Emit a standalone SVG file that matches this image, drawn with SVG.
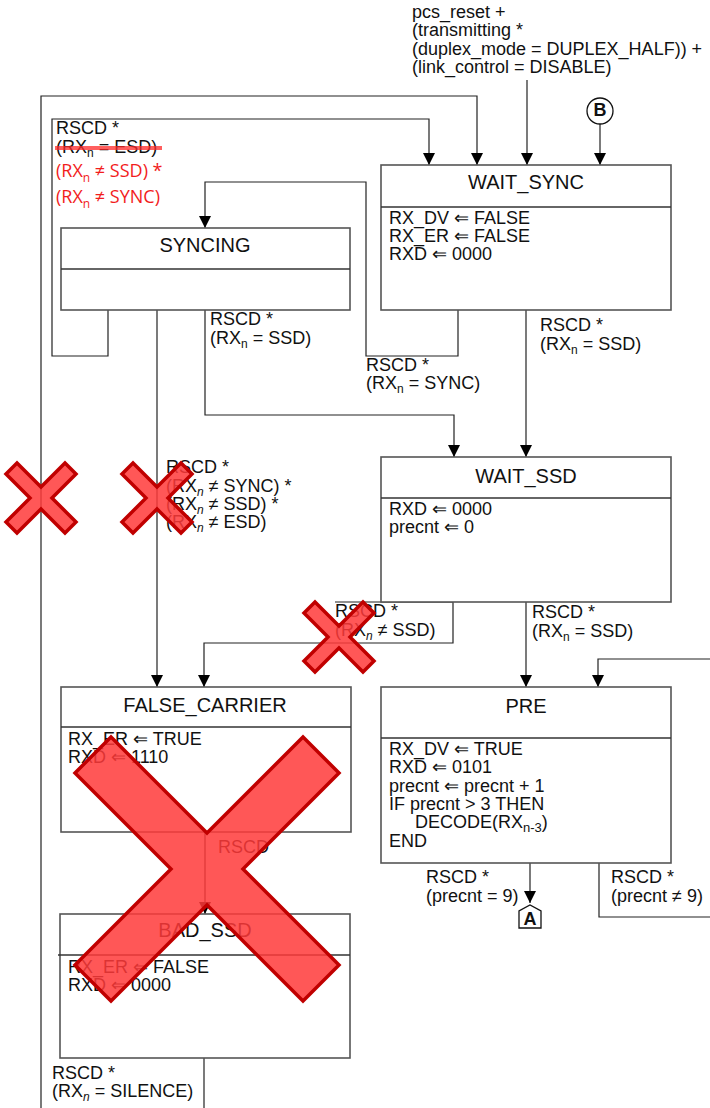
<svg xmlns="http://www.w3.org/2000/svg" width="710" height="1108" viewBox="0 0 710 1108">
<defs>
<style>
text{font-family:"Liberation Sans",Arial,sans-serif;font-size:18px;fill:#111}
.t{font-size:20px;text-anchor:middle}
.box{fill:#fff;stroke:#555;stroke-width:1.6}
.div{stroke:#333;stroke-width:1.3}
.ln{fill:none;stroke:#222;stroke-width:1.2}
.red{font-family:"Open Sans","Noto Sans",sans-serif;font-size:18px;fill:#f21c1c}
.x{fill:#ff3a3a;fill-opacity:.85;stroke:#c00000;stroke-width:3.5;stroke-linejoin:miter}
</style>
<marker id="ah" markerUnits="userSpaceOnUse" markerWidth="12" markerHeight="13" refX="12" refY="6" orient="auto">
<path d="M0,0 L12,6 L0,12 z" fill="#000"/>
</marker>
<polygon id="sx" class="x" points="0,-11 24,-35 35,-24 11,0 35,24 24,35 0,11 -24,35 -35,24 -11,0 -35,-24 -24,-35"/>
</defs>
<rect width="710" height="1108" fill="#fff"/>

<g id="connectors">
<path class="ln" d="M41,1108 V96 H477 V165" marker-end="url(#ah)"/>
<path class="ln" d="M108,310 V356 H52 V119 H429 V165" marker-end="url(#ah)"/>
<path class="ln" d="M527,80 V165" marker-end="url(#ah)"/>
<path class="ln" d="M600,124 V165" marker-end="url(#ah)"/>
<path class="ln" d="M458,310 V356 H366 V182 H205 V228" marker-end="url(#ah)"/>
<path class="ln" d="M205,310 V415 H454 V457" marker-end="url(#ah)"/>
<path class="ln" d="M526,310 V457" marker-end="url(#ah)"/>
<path class="ln" d="M157,310 V687" marker-end="url(#ah)"/>
<path class="ln" d="M453,602 V643 H204 V687" marker-end="url(#ah)"/>
<path class="ln" d="M526,602 V687" marker-end="url(#ah)"/>
<path class="ln" d="M710,659 H598 V687" marker-end="url(#ah)"/>
<path class="ln" d="M599,863 V917 H710"/>
<path class="ln" d="M530,863 V903" marker-end="url(#ah)"/>
<path class="ln" d="M205,832 V914" marker-end="url(#ah)"/>
<path class="ln" d="M204,1058 V1108"/>
</g>

<g id="labels">
<text x="412" y="18">pcs_reset +</text>
<text x="412" y="36">(transmitting *</text>
<text x="412" y="55">(duplex_mode = DUPLEX_HALF)) +</text>
<text x="412" y="73">(link_control = DISABLE)</text>

<text x="56" y="134" font-size="17">RSCD *</text>
<text x="56" y="153" font-size="17">(RX<tspan dy="4" font-size="12">n</tspan><tspan dy="-4"> = ESD)</tspan></text>
<line x1="55" y1="148" x2="162" y2="148" stroke="#ff2a2a" stroke-opacity=".75" stroke-width="4"/>
<text class="red" x="56" y="177">(RX<tspan dy="5" font-size="12">n</tspan><tspan dy="-5"> ≠ SSD) *</tspan></text>
<text class="red" x="56" y="203">(RX<tspan dy="5" font-size="12">n</tspan><tspan dy="-5"> ≠ SYNC)</tspan></text>

<text x="210" y="325">RSCD *</text>
<text x="210" y="344">(RX<tspan dy="4" font-size="12">n</tspan><tspan dy="-4"> = SSD)</tspan></text>

<text x="540" y="331">RSCD *</text>
<text x="540" y="350">(RX<tspan dy="4" font-size="12">n</tspan><tspan dy="-4"> = SSD)</tspan></text>

<text x="366" y="371">RSCD *</text>
<text x="366" y="389">(RX<tspan dy="4" font-size="12">n</tspan><tspan dy="-4"> = SYNC)</tspan></text>

<text x="166" y="473">RSCD *</text>
<text x="166" y="492">(RX<tspan dy="4" font-size="12" font-style="italic">n</tspan><tspan dy="-4"> ≠ SYNC) *</tspan></text>
<text x="166" y="510">(RX<tspan dy="4" font-size="12" font-style="italic">n</tspan><tspan dy="-4"> ≠ SSD) *</tspan></text>
<text x="166" y="528">(RX<tspan dy="4" font-size="12" font-style="italic">n</tspan><tspan dy="-4"> ≠ ESD)</tspan></text>

<text x="335" y="617">RSCD *</text>
<text x="335" y="636">(RX<tspan dy="4" font-size="12" font-style="italic">n</tspan><tspan dy="-4"> ≠ SSD)</tspan></text>
<path class="ln" d="M335,602 H453"/>

<text x="532" y="618">RSCD *</text>
<text x="532" y="637">(RX<tspan dy="4" font-size="12">n</tspan><tspan dy="-4"> = SSD)</tspan></text>

<text x="426" y="883">RSCD *</text>
<text x="426" y="902">(precnt = 9)</text>
<text x="611" y="883">RSCD *</text>
<text x="611" y="902">(precnt ≠ 9)</text>

<text x="218" y="853">RSCD</text>

<text x="52" y="1079">RSCD *</text>
<text x="52" y="1097">(RX<tspan dy="4" font-size="12" font-style="italic">n</tspan><tspan dy="-4"> = SILENCE)</tspan></text>
</g>

<g id="B">
<circle cx="600" cy="111" r="13" fill="#fff" stroke="#111" stroke-width="1.3"/>
<text x="600" y="116" text-anchor="middle" font-size="14" font-weight="bold">B</text>
</g>

<g id="A">
<polygon points="519,928 519,911 530,905 541,911 541,928" fill="#fff" stroke="#111" stroke-width="1.3"/>
<text x="530" y="925" text-anchor="middle" font-size="14" font-weight="bold">A</text>
</g>

<g id="WAIT_SYNC">
<rect class="box" x="381" y="165" width="290" height="145"/>
<line class="div" x1="381" y1="207" x2="671" y2="207"/>
<text class="t" x="526" y="189">WAIT_SYNC</text>
<text x="389" y="224">RX_DV ⇐ FALSE</text>
<text x="389" y="242">RX_ER ⇐ FALSE</text>
<text x="389" y="260">RXD ⇐ 0000</text>
</g>

<g id="SYNCING">
<rect class="box" x="61" y="228" width="289" height="82"/>
<line class="div" x1="61" y1="269" x2="350" y2="269"/>
<text class="t" x="205" y="252">SYNCING</text>
</g>

<g id="WAIT_SSD">
<rect class="box" x="381" y="457" width="290" height="145"/>
<line class="div" x1="381" y1="498" x2="671" y2="498"/>
<text class="t" x="526" y="483">WAIT_SSD</text>
<text x="389" y="515">RXD ⇐ 0000</text>
<text x="389" y="533">precnt ⇐ 0</text>
</g>

<g id="FALSE_CARRIER">
<rect class="box" x="61" y="687" width="290" height="145"/>
<line class="div" x1="61" y1="727" x2="351" y2="727"/>
<text class="t" x="205" y="712">FALSE_CARRIER</text>
<text x="68" y="745">RX_ER ⇐ TRUE</text>
<text x="68" y="763">RXD ⇐ 1110</text>
</g>

<g id="PRE">
<rect class="box" x="381" y="687" width="290" height="176"/>
<line class="div" x1="381" y1="738" x2="671" y2="738"/>
<text class="t" x="526" y="713">PRE</text>
<text x="389" y="755">RX_DV ⇐ TRUE</text>
<text x="389" y="773">RXD ⇐ 0101</text>
<text x="389" y="792">precnt ⇐ precnt + 1</text>
<text x="389" y="810">IF precnt &gt; 3 THEN</text>
<text x="415" y="828">DECODE(RX<tspan dy="4" font-size="13">n-3</tspan><tspan dy="-4">)</tspan></text>
<text x="389" y="847">END</text>
</g>

<g id="BAD_SSD">
<rect class="box" x="60" y="914" width="290" height="144"/>
<line class="div" x1="58" y1="955" x2="350" y2="955"/>
<text class="t" x="205" y="937">BAD_SSD</text>
<text x="68" y="973">RX_ER ⇐ FALSE</text>
<text x="68" y="991">RXD ⇐ 0000</text>
</g>

<g id="crosses">
<use href="#sx" x="41" y="498"/>
<use href="#sx" x="157" y="498"/>
<use href="#sx" x="339" y="637"/>
<polygon class="x" stroke-width="4" points="207,833 303,737 339,773 243,869 339,965 303,1001 207,905 111,1001 75,965 171,869 75,773 111,737"/>
</g>
</svg>
